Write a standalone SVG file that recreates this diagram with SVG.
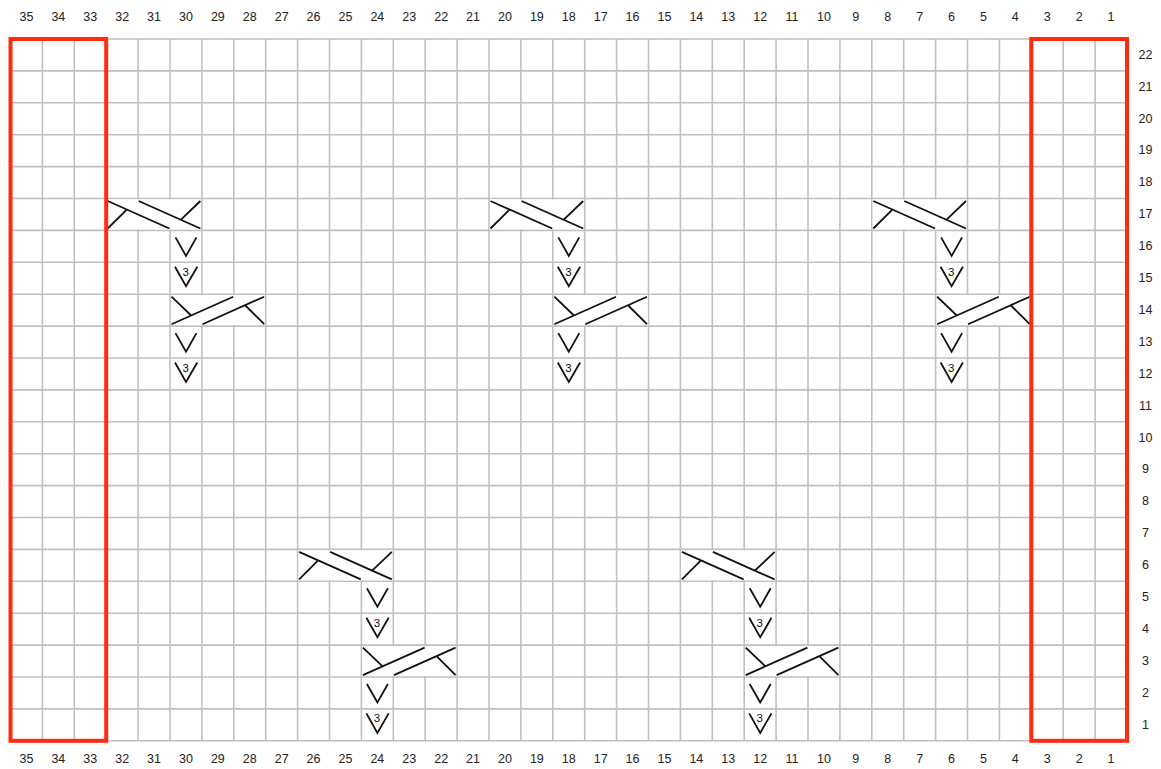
<svg xmlns="http://www.w3.org/2000/svg" xmlns:xlink="http://www.w3.org/1999/xlink" width="1161" height="769" viewBox="0 0 1161 769">
<style>
.grid{fill:none;stroke:#c0c0c0;stroke-width:1.6}
.edge{fill:none;stroke:#ff2a10;stroke-width:4}
.sym{fill:none;stroke:#111;stroke-width:1.8;stroke-linecap:butt;stroke-linejoin:miter}
.lbl{font-family:"Liberation Sans",Arial,sans-serif;font-size:12.5px;fill:#222;text-anchor:middle}
.n3{font-family:"Liberation Sans",Arial,sans-serif;font-size:11.5px;fill:#111;text-anchor:middle}
</style>
<defs>
<g id="cableR">
<rect x="1" y="1" width="93.7" height="29.9" fill="#fff"/>
<path class="sym" d="M1.5 2.5L63.2 30M32.5 2.5L94.2 30M1.5 30L20.3 11.3M94.2 2.5L74.5 21.3"/>
</g>
<g id="cableL" transform="translate(95.7 0) scale(-1 1)">
<use xlink:href="#cableR" href="#cableR"/>
</g>
<g id="v">
<path class="sym" d="M5.5 7L16 25.5L26.5 7"/>
</g>
<g id="v3">
<path class="sym" d="M5 4.5L16 24L27.3 4.5"/>
<text class="n3" x="15.6" y="13.6">3</text>
</g>
</defs>
<rect width="1161" height="769" fill="#fff"/>
<g id="grid">
<path class="grid" d="M10.5 39V740.8M42.4 39V740.8M74.3 39V740.8M106.2 39V740.8M138.1 39V740.8M170 39V740.8M201.9 39V740.8M233.8 39V740.8M265.7 39V740.8M297.6 39V740.8M329.5 39V740.8M361.4 39V740.8M393.3 39V740.8M425.2 39V740.8M457.1 39V740.8M489 39V740.8M520.9 39V740.8M552.8 39V740.8M584.7 39V740.8M616.6 39V740.8M648.5 39V740.8M680.4 39V740.8M712.3 39V740.8M744.2 39V740.8M776.1 39V740.8M808 39V740.8M839.9 39V740.8M871.8 39V740.8M903.7 39V740.8M935.6 39V740.8M967.5 39V740.8M999.4 39V740.8M1031.3 39V740.8M1063.2 39V740.8M1095.1 39V740.8M1127 39V740.8
M10.5 39H1127M10.5 70.9H1127M10.5 102.8H1127M10.5 134.7H1127M10.5 166.6H1127M10.5 198.5H1127M10.5 230.4H1127M10.5 262.3H1127M10.5 294.2H1127M10.5 326.1H1127M10.5 358H1127M10.5 389.9H1127M10.5 421.8H1127M10.5 453.7H1127M10.5 485.6H1127M10.5 517.5H1127M10.5 549.4H1127M10.5 581.3H1127M10.5 613.2H1127M10.5 645.1H1127M10.5 677H1127M10.5 708.9H1127M10.5 740.8H1127"/>
</g>
<g id="motif-30">
<use href="#cableR" xlink:href="#cableR" x="106.2" y="198.5"/>
<use href="#v" xlink:href="#v" x="170" y="230.4"/>
<use href="#v3" xlink:href="#v3" x="170" y="262.3"/>
<use href="#cableL" xlink:href="#cableL" x="170" y="294.2"/>
<use href="#v" xlink:href="#v" x="170" y="326.1"/>
<use href="#v3" xlink:href="#v3" x="170" y="358"/>
</g>
<g id="motif-18">
<use href="#cableR" xlink:href="#cableR" x="489" y="198.5"/>
<use href="#v" xlink:href="#v" x="552.8" y="230.4"/>
<use href="#v3" xlink:href="#v3" x="552.8" y="262.3"/>
<use href="#cableL" xlink:href="#cableL" x="552.8" y="294.2"/>
<use href="#v" xlink:href="#v" x="552.8" y="326.1"/>
<use href="#v3" xlink:href="#v3" x="552.8" y="358"/>
</g>
<g id="motif-6">
<use href="#cableR" xlink:href="#cableR" x="871.8" y="198.5"/>
<use href="#v" xlink:href="#v" x="935.6" y="230.4"/>
<use href="#v3" xlink:href="#v3" x="935.6" y="262.3"/>
<use href="#cableL" xlink:href="#cableL" x="935.6" y="294.2"/>
<use href="#v" xlink:href="#v" x="935.6" y="326.1"/>
<use href="#v3" xlink:href="#v3" x="935.6" y="358"/>
</g>
<g id="motif-24">
<use href="#cableR" xlink:href="#cableR" x="297.6" y="549.4"/>
<use href="#v" xlink:href="#v" x="361.4" y="581.3"/>
<use href="#v3" xlink:href="#v3" x="361.4" y="613.2"/>
<use href="#cableL" xlink:href="#cableL" x="361.4" y="645.1"/>
<use href="#v" xlink:href="#v" x="361.4" y="677"/>
<use href="#v3" xlink:href="#v3" x="361.4" y="708.9"/>
</g>
<g id="motif-12">
<use href="#cableR" xlink:href="#cableR" x="680.4" y="549.4"/>
<use href="#v" xlink:href="#v" x="744.2" y="581.3"/>
<use href="#v3" xlink:href="#v3" x="744.2" y="613.2"/>
<use href="#cableL" xlink:href="#cableL" x="744.2" y="645.1"/>
<use href="#v" xlink:href="#v" x="744.2" y="677"/>
<use href="#v3" xlink:href="#v3" x="744.2" y="708.9"/>
</g>
<g id="edge-left"><rect class="edge" x="10.5" y="39" width="95.7" height="701.8"/></g>
<g id="edge-right"><rect class="edge" x="1031.3" y="39" width="95.7" height="701.8"/></g>
<g id="connectors"></g>
<g id="labels-top" class="lbl">
<text x="26.45" y="20.7">35</text><text x="58.35" y="20.7">34</text><text x="90.25" y="20.7">33</text><text x="122.15" y="20.7">32</text><text x="154.05" y="20.7">31</text><text x="185.95" y="20.7">30</text><text x="217.85" y="20.7">29</text><text x="249.75" y="20.7">28</text><text x="281.65" y="20.7">27</text><text x="313.55" y="20.7">26</text><text x="345.45" y="20.7">25</text><text x="377.35" y="20.7">24</text><text x="409.25" y="20.7">23</text><text x="441.15" y="20.7">22</text><text x="473.05" y="20.7">21</text><text x="504.95" y="20.7">20</text><text x="536.85" y="20.7">19</text><text x="568.75" y="20.7">18</text><text x="600.65" y="20.7">17</text><text x="632.55" y="20.7">16</text><text x="664.45" y="20.7">15</text><text x="696.35" y="20.7">14</text><text x="728.25" y="20.7">13</text><text x="760.15" y="20.7">12</text><text x="792.05" y="20.7">11</text><text x="823.95" y="20.7">10</text><text x="855.85" y="20.7">9</text><text x="887.75" y="20.7">8</text><text x="919.65" y="20.7">7</text><text x="951.55" y="20.7">6</text><text x="983.45" y="20.7">5</text><text x="1015.35" y="20.7">4</text><text x="1047.25" y="20.7">3</text><text x="1079.15" y="20.7">2</text><text x="1111.05" y="20.7">1</text>
</g>
<g id="labels-bottom" class="lbl">
<text x="26.45" y="763.3">35</text><text x="58.35" y="763.3">34</text><text x="90.25" y="763.3">33</text><text x="122.15" y="763.3">32</text><text x="154.05" y="763.3">31</text><text x="185.95" y="763.3">30</text><text x="217.85" y="763.3">29</text><text x="249.75" y="763.3">28</text><text x="281.65" y="763.3">27</text><text x="313.55" y="763.3">26</text><text x="345.45" y="763.3">25</text><text x="377.35" y="763.3">24</text><text x="409.25" y="763.3">23</text><text x="441.15" y="763.3">22</text><text x="473.05" y="763.3">21</text><text x="504.95" y="763.3">20</text><text x="536.85" y="763.3">19</text><text x="568.75" y="763.3">18</text><text x="600.65" y="763.3">17</text><text x="632.55" y="763.3">16</text><text x="664.45" y="763.3">15</text><text x="696.35" y="763.3">14</text><text x="728.25" y="763.3">13</text><text x="760.15" y="763.3">12</text><text x="792.05" y="763.3">11</text><text x="823.95" y="763.3">10</text><text x="855.85" y="763.3">9</text><text x="887.75" y="763.3">8</text><text x="919.65" y="763.3">7</text><text x="951.55" y="763.3">6</text><text x="983.45" y="763.3">5</text><text x="1015.35" y="763.3">4</text><text x="1047.25" y="763.3">3</text><text x="1079.15" y="763.3">2</text><text x="1111.05" y="763.3">1</text>
</g>
<g id="labels-right" class="lbl">
<text x="1145.5" y="58.75">22</text><text x="1145.5" y="90.65">21</text><text x="1145.5" y="122.55">20</text><text x="1145.5" y="154.45">19</text><text x="1145.5" y="186.35">18</text><text x="1145.5" y="218.25">17</text><text x="1145.5" y="250.15">16</text><text x="1145.5" y="282.05">15</text><text x="1145.5" y="313.95">14</text><text x="1145.5" y="345.85">13</text><text x="1145.5" y="377.75">12</text><text x="1145.5" y="409.65">11</text><text x="1145.5" y="441.55">10</text><text x="1145.5" y="473.45">9</text><text x="1145.5" y="505.35">8</text><text x="1145.5" y="537.25">7</text><text x="1145.5" y="569.15">6</text><text x="1145.5" y="601.05">5</text><text x="1145.5" y="632.95">4</text><text x="1145.5" y="664.85">3</text><text x="1145.5" y="696.75">2</text><text x="1145.5" y="728.65">1</text>
</g>
</svg>
